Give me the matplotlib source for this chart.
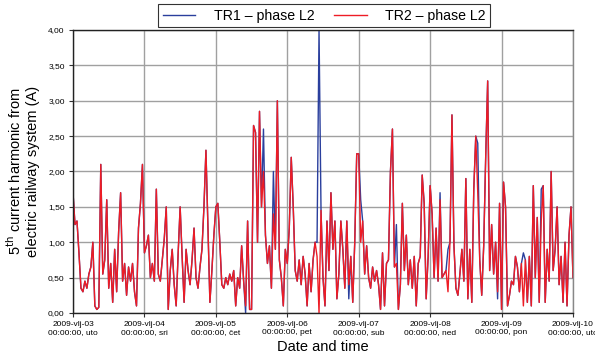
import numpy as np
import pandas as pd
import matplotlib
matplotlib.use("Agg")
import matplotlib.pyplot as plt

plt.rcParams['font.family'] = ['Liberation Sans', 'DejaVu Sans']

# TR2 - phase L2, 36 samples a day (every 40 min)
day1 = [1.70, 1.25, 1.30, 0.85, 0.35, 0.30, 0.45, 0.35, 0.55, 0.65, 1.00, 0.10,
        0.05, 0.08, 2.10, 0.55, 0.75, 1.60, 0.35, 0.70, 0.15, 0.90, 0.30, 1.15,
        1.70, 0.45, 0.70, 0.25, 0.65, 0.45, 0.70, 0.30, 0.10, 1.20, 1.55, 2.10]
day2 = [0.85, 0.95, 1.10, 0.50, 0.70, 0.45, 1.75, 0.55, 0.45, 0.75, 1.05, 1.50,
        0.05, 0.60, 0.90, 0.40, 0.10, 0.85, 1.50, 0.80, 0.15, 0.90, 0.60, 0.40,
        0.75, 1.20, 0.50, 0.35, 0.65, 0.90, 1.50, 2.30, 1.20, 0.15, 0.60, 1.10]
day3 = [1.50, 1.55, 1.00, 0.40, 0.35, 0.50, 0.40, 0.55, 0.45, 0.60, 0.10, 0.50,
        0.35, 0.95, 0.45, 0.10, 1.30, 0.05, 0.05, 2.65, 2.55, 1.00, 2.85, 1.50,
        2.00, 1.10, 0.70, 0.95, 0.35, 1.40, 0.90, 3.00, 0.75, 0.50, 0.10, 0.90]
day4 = [0.70, 1.20, 2.20, 1.50, 0.60, 0.45, 0.75, 0.40, 0.80, 0.55, 0.10, 0.70,
        0.30, 0.75, 1.00, 0.80, 0.00, 1.45, 0.50, 0.10, 1.30, 0.60, 1.70, 0.90,
        1.30, 0.20, 0.55, 1.30, 0.90, 0.35, 1.30, 0.40, 0.80, 0.15, 1.00, 2.25]
day5 = [2.25, 1.00, 1.30, 0.55, 0.95, 0.50, 0.35, 0.65, 0.45, 0.60, 0.40, 0.05,
        0.85, 0.10, 0.70, 0.75, 2.00, 2.60, 0.65, 0.70, 0.05, 0.40, 1.55, 0.60,
        1.10, 0.40, 0.75, 0.35, 0.80, 0.10, 0.70, 0.80, 1.95, 1.55, 0.20, 0.80]
day6 = [1.80, 1.40, 0.50, 1.20, 0.45, 1.60, 0.50, 0.55, 0.60, 0.30, 1.00, 2.80,
        0.95, 0.35, 0.25, 0.55, 0.90, 0.45, 1.90, 0.20, 0.90, 0.15, 1.75, 2.50,
        1.70, 0.75, 0.25, 0.95, 2.20, 3.28, 0.60, 1.25, 0.55, 1.00, 0.30, 1.55]
day7 = [0.05, 1.85, 1.50, 0.10, 0.25, 0.45, 0.40, 0.80, 0.65, 0.30, 0.70, 0.10,
        0.75, 0.15, 0.80, 0.10, 1.80, 0.50, 1.35, 0.15, 1.30, 1.80, 0.15, 0.90,
        0.45, 2.00, 0.60, 0.90, 1.50, 0.40, 0.80, 0.15, 1.00, 0.10, 1.10, 1.50]
last_value = [0.50]

# TR1 - phase L2 follows TR2 except at these samples (index, value)
tr1_diff = [(87, 0.00), (96, 2.60), (101, 2.00), (123, 1.00), (124, 4.00),
            (139, 0.20), (145, 1.60), (163, 1.25), (185, 1.70), (189, 0.90),
            (204, 2.40), (214, 0.20), (227, 0.85), (236, 1.75)]

tick_labels = ["2009-vlj-03\n00:00:00, uto", "2009-vlj-04\n00:00:00, sri",
               "2009-vlj-05\n00:00:00, čet", "2009-vlj-06\n00:00:00, pet",
               "2009-vlj-07\n00:00:00, sub", "2009-vlj-08\n00:00:00, ned",
               "2009-vlj-09\n00:00:00, pon", "2009-vlj-10\n00:00:00, uto"]

tr2 = np.array(day1 + day2 + day3 + day4 + day5 + day6 + day7 + last_value)
tr1 = tr2.copy()
for i, v in tr1_diff:
    tr1[i] = v
t = pd.date_range("2009-06-03", periods=len(tr2), freq="40min")

fig = plt.figure(figsize=(5.95, 3.6), dpi=100)
ax = fig.add_axes([0.1227, 0.1306, 0.8403, 0.7861])

ax.plot(t, tr1, color='#2a3f9d', lw=1.0, label='TR1 – phase L2')
ax.plot(t, tr2, color='#ee1c25', lw=1.0, label='TR2 – phase L2')

days = pd.date_range("2009-06-03", "2009-06-10", freq="D")
ax.set_xlim(days[0], days[-1])
ax.set_ylim(0, 4)
ax.set_xticks(days)
ax.set_xticklabels(tick_labels, fontsize=6.0)
yt = np.arange(0, 4.01, 0.5)
ax.set_yticks(yt)
ax.set_yticklabels([f"{v:.2f}".replace('.', ',') for v in yt], fontsize=6.0)
ax.tick_params(length=3, width=0.8, color='#333333', pad=3)
ax.grid(True, color='#a0a0a0', lw=1.0)
ax.set_axisbelow(True)
for s in ax.spines.values():
    s.set_linewidth(1.0)
    s.set_color('#222222')
ax.spines['right'].set_color('#888888')

ax.set_xlabel("Date and time", fontsize=10.5, labelpad=3)
ax.set_ylabel("5$^{\\rm th}$ current harmonic from\nelectric railway system (A)",
              fontsize=10.5, labelpad=6)

leg = ax.legend(loc='lower center', bbox_to_anchor=(0.502, 1.0106), ncol=2,
                fontsize=10.2, frameon=True, fancybox=False, edgecolor='black',
                borderpad=0.3, columnspacing=1.4, handlelength=2.3,
                handletextpad=1.3, borderaxespad=0)
leg.get_frame().set_linewidth(0.8)

fig.savefig("out.png", dpi=100)
